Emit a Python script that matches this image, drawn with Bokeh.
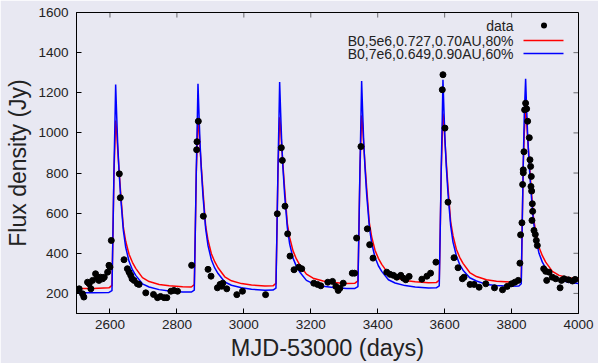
from bokeh.plotting import figure
from bokeh.models import (Range1d, FixedTicker, Label, BoxAnnotation)
from bokeh.embed import file_html
from bokeh.resources import INLINE

# ---------------- data ----------------
data_day = [2500, 2508, 2518, 2522, 2533, 2538, 2543, 2548, 2557, 2562, 2567, 2572, 2578, 2583,
            2593, 2597, 2600, 2604, 2628, 2631, 2642, 2652, 2657, 2662, 2666, 2672, 2682, 2687,
            2707, 2730, 2742, 2751, 2762, 2770, 2782, 2791, 2802,
            2844, 2859, 2860, 2864, 2879, 2893, 2902, 2921, 2929, 2934, 2937, 2949, 2979, 2996,
            3065, 3100, 3112, 3115, 3123, 3131, 3138, 3150, 3164, 3173, 3209, 3220, 3230, 3251,
            3265, 3275, 3282, 3287, 3297,
            3324, 3331, 3337, 3350, 3369, 3376, 3386, 3427, 3437, 3447, 3457, 3469, 3477, 3484,
            3494, 3532, 3547, 3558, 3574,
            3593, 3595, 3601, 3610, 3628, 3640, 3653, 3658, 3676, 3688, 3703, 3723, 3749, 3773,
            3787, 3800, 3810, 3820,
            3825, 3827, 3831, 3833, 3835, 3835, 3837, 3839, 3842, 3845, 3848, 3853, 3855, 3857,
            3858, 3859, 3860, 3862, 3863, 3861, 3867, 3871, 3874, 3877, 3896, 3902, 3905, 3912,
            3922, 3932, 3945, 3949, 3957, 3970, 3982, 3990]
data_flux = [215, 223, 198, 182, 256, 248, 223, 265, 298, 281, 265, 281, 273, 281,
             306, 340, 331, 464, 796, 677, 368, 323, 306, 290, 273, 265, 248, 245,
             203, 195, 179, 185, 179, 179, 211, 215, 211,
             340, 916, 956, 1058, 585, 320, 286, 228, 245, 236, 251, 223, 194, 211,
             194, 597, 926, 863, 635, 497, 386, 318, 331, 323, 251, 245, 238, 256,
             260, 235, 215, 226, 251,
             301, 301, 476, 932, 522, 443, 376, 306, 295, 290, 281, 290, 276, 268,
             285, 271, 286, 301, 356,
             1215, 1290, 1024, 655, 378, 328, 273, 281, 245, 245, 231, 248, 228, 218,
             235, 248, 256, 265,
             351, 492, 552, 743, 801, 816, 906, 1115, 1148, 1120, 1058, 976, 866, 833,
             733, 783, 710, 647, 609, 564, 514, 494, 464, 439, 323, 310, 265, 306,
             281, 273, 228, 265, 273, 268, 262, 270]

model_day = [2500, 2550, 2597, 2606, 2609, 2612, 2615, 2617, 2620, 2623, 2627, 2632, 2640, 2647,
             2657, 2667, 2677, 2697, 2717, 2747, 2777, 2817,
             2843, 2852, 2855, 2858, 2861, 2863, 2866, 2869, 2873, 2878, 2886, 2893, 2903, 2913,
             2923, 2943, 2963, 2993, 3023, 3063,
             3087, 3096, 3099, 3102, 3105, 3107, 3110, 3113, 3117, 3122, 3130, 3137, 3147, 3157,
             3167, 3187, 3207, 3237, 3267, 3307,
             3332, 3341, 3344, 3347, 3350, 3352, 3355, 3358, 3362, 3367, 3375, 3382, 3392, 3402,
             3412, 3432, 3452, 3482, 3512, 3552,
             3575, 3584, 3587, 3590, 3593, 3595, 3598, 3601, 3605, 3610, 3618, 3625, 3635, 3645,
             3655, 3675, 3695, 3725, 3755, 3795,
             3822, 3829, 3832, 3835, 3838, 3842, 3845, 3848, 3852, 3857, 3865, 3872, 3882, 3892,
             3902, 3922, 3942, 3970, 4000]
red_flux = [225, 224, 228, 240, 500, 800, 960, 1062, 1010, 920, 820, 700, 530, 460,
            395, 355, 325, 279, 259, 245, 238, 233,
            232, 244, 505, 805, 965, 1072, 1020, 930, 830, 710, 535, 465, 398, 358,
            328, 283, 263, 249, 242, 237,
            238, 250, 510, 810, 970, 1078, 1028, 938, 838, 720, 548, 478, 412, 372,
            342, 296, 276, 262, 255, 250,
            251, 263, 520, 815, 980, 1087, 1035, 945, 845, 725, 552, 482, 415, 375,
            345, 299, 279, 265, 258, 253,
            254, 266, 525, 820, 985, 1096, 1045, 955, 852, 730, 558, 488, 420, 380,
            350, 304, 284, 268, 261, 257,
            258, 272, 560, 840, 1000, 1112, 1060, 975, 880, 760, 585, 505, 430, 388,
            356, 310, 290, 278, 272]
blue_flux = [204, 204, 205, 214, 514, 813, 1062, 1241, 1090, 950, 813, 680, 514, 430,
             360, 318, 290, 248, 232, 219, 212, 207,
             207, 216, 516, 815, 1065, 1245, 1094, 954, 817, 685, 522, 438, 368, 327,
             299, 257, 241, 228, 221, 216,
             217, 226, 520, 820, 1070, 1253, 1100, 960, 822, 690, 528, 446, 376, 335,
             307, 265, 249, 236, 229, 224,
             225, 234, 530, 825, 1075, 1258, 1105, 965, 828, 695, 532, 450, 380, 338,
             310, 268, 252, 239, 232, 227,
             228, 238, 535, 830, 1080, 1265, 1110, 970, 832, 700, 538, 456, 388, 344,
             316, 278, 262, 245, 239, 236,
             237, 248, 560, 850, 1090, 1270, 1120, 990, 860, 730, 565, 480, 400, 356,
             326, 288, 268, 256, 250]

x_ticks = [2600, 2800, 3000, 3200, 3400, 3600, 3800, 4000]
y_ticks = [200, 400, 600, 800, 1000, 1200, 1400, 1600]
legend_labels = ["data", "B0,5e6,0.727,0.70AU,80%", "B0,7e6,0.649,0.90AU,60%"]

BG = "#e8e8f2"
FONT = "Liberation Sans"
RED = "#ff0000"
BLUE = "#0000ff"
W, H = 598, 363
BL, BR, BT, BB = 76, 20, 12, 50
FW, FH = W - BL - BR, H - BT - BB   # frame size in px
TICK = 5

p = figure(width=W, height=H, output_backend="svg", toolbar_location=None,
           x_range=Range1d(2500, 4000), y_range=Range1d(100, 1600),
           min_border_left=BL, min_border_right=BR, min_border_top=BT, min_border_bottom=BB,
           background_fill_color=BG, border_fill_color=BG, outline_line_color="black")
p.xgrid.visible = False
p.ygrid.visible = False

p.line(model_day, red_flux, line_color=RED, line_width=1.5)
p.line(model_day, blue_flux, line_color=BLUE, line_width=1.5)
p.scatter(data_day, data_flux, size=6, fill_color="black", line_color="black")

def style_axis(ax):
    ax.major_tick_in = TICK
    ax.major_tick_out = 0
    ax.minor_tick_line_color = None
    ax.axis_line_color = "black"
    ax.major_tick_line_color = "black"
    ax.major_label_text_font = FONT
    ax.major_label_text_font_size = "13.5px"
    ax.major_label_text_color = "#222222"
    ax.axis_label_text_font = FONT
    ax.axis_label_text_font_style = "normal"
    ax.axis_label_text_color = "#222222"

xa = p.xaxis[0]
xa.ticker = FixedTicker(ticks=x_ticks)
style_axis(xa)
xa.axis_label = "MJD-53000 (days)"
xa.axis_label_text_font_size = "23.5px"
xa.major_label_standoff = 6
xa.axis_label_standoff = 3

ya = p.yaxis[0]
ya.ticker = FixedTicker(ticks=y_ticks)
style_axis(ya)
ya.axis_label = "Flux density (Jy)"
ya.axis_label_text_font_size = "23px"
ya.major_label_standoff = 8
ya.axis_label_standoff = 4

# mirrored inward ticks on top and right edges (no labels)
for t in x_ticks:
    p.add_layout(BoxAnnotation(left=t, right=t, top=None, bottom=FH - TICK,
                               bottom_units="screen", fill_alpha=0,
                               line_color="black", line_width=1))
for t in y_ticks:
    p.add_layout(BoxAnnotation(bottom=t, top=t, right=None, left=FW - TICK,
                               left_units="screen", fill_alpha=0,
                               line_color="black", line_width=1))

# legend (gnuplot style: right-aligned text, sample on the right)
rows_y = [288, 273, 260]
for lab, yy in zip(legend_labels, rows_y):
    p.add_layout(Label(x=437, y=yy, x_units="screen", y_units="screen", text=lab,
                       text_align="right", text_baseline="middle", text_font=FONT,
                       text_font_size="14px", text_color="#222222"))
p.add_layout(BoxAnnotation(left=464.5, right=470.5, bottom=285, top=291,
                           left_units="screen", right_units="screen",
                           bottom_units="screen", top_units="screen",
                           fill_color="black", fill_alpha=1, line_color=None,
                           border_radius=3))
for col, yy in zip([RED, BLUE], rows_y[1:]):
    p.add_layout(BoxAnnotation(left=447, right=487, bottom=yy - 0.75, top=yy + 0.75,
                               left_units="screen", right_units="screen",
                               bottom_units="screen", top_units="screen",
                               fill_color=col, fill_alpha=1, line_color=None))

open("out.html", "w").write(file_html(p, INLINE))
